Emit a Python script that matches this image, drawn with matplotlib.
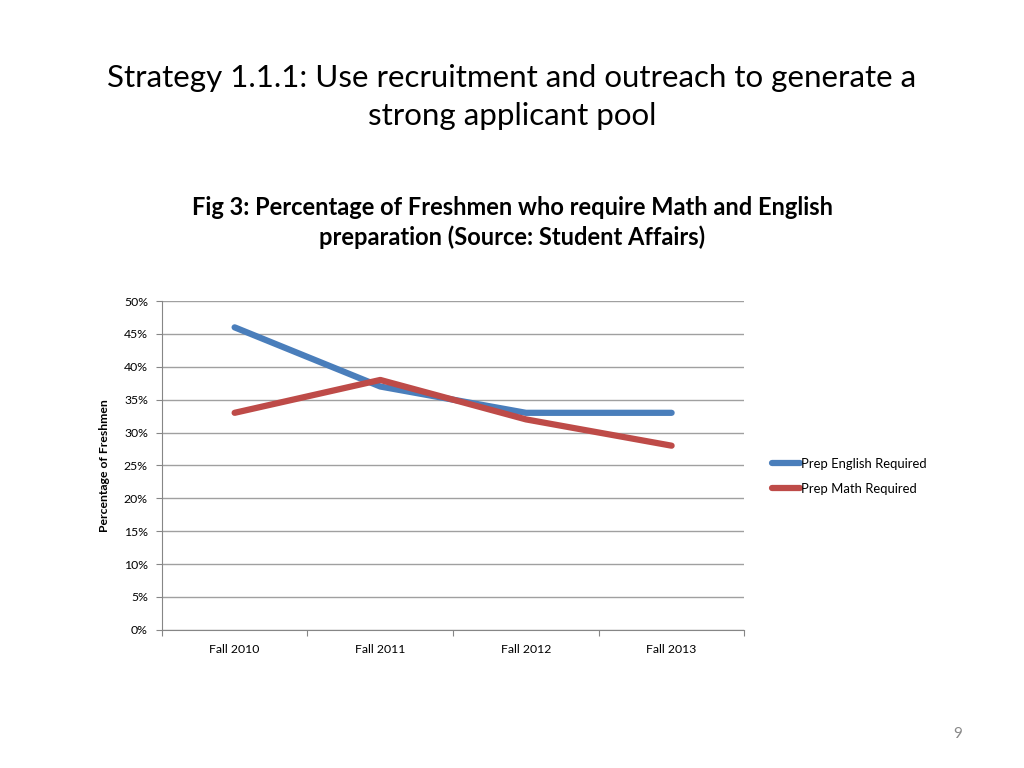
import numpy as np
import matplotlib.pyplot as plt
from matplotlib.ticker import FixedLocator, PercentFormatter

plt.rcParams['font.family'] = ['Lato', 'DejaVu Sans']

years = ["Fall 2010", "Fall 2011", "Fall 2012", "Fall 2013"]
english = [46, 37, 33, 33]
math_req = [33, 38, 32, 28]

fig = plt.figure(figsize=(10.24, 7.68), dpi=100)
ax = fig.add_axes([0.158, 0.180, 0.569, 0.428])

x = np.arange(len(years))
ax.plot(x, english, color="#4a7ebb", lw=4.5, solid_capstyle="round", label="Prep English Required")
ax.plot(x, math_req, color="#be4b48", lw=4.5, solid_capstyle="round", label="Prep Math Required")

ax.set_xlim(-0.5, len(years) - 0.5)
ax.set_ylim(0, 50)
ax.set_yticks(np.arange(0, 51, 5))
ax.yaxis.set_major_formatter(PercentFormatter(decimals=0))
ax.xaxis.set_major_locator(FixedLocator(np.arange(-0.5, len(years), 1)))
ax.xaxis.set_major_formatter(plt.NullFormatter())
ax.xaxis.set_minor_locator(FixedLocator(x))
ax.set_xticklabels(years, minor=True)
ax.tick_params(axis="x", which="minor", length=0, pad=10, labelsize=8.8)
ax.tick_params(axis="x", which="major", length=4, color="#868686")
ax.tick_params(axis="y", length=4, color="#868686", labelsize=8.8, pad=6)
ax.grid(axis="y", color="#a0a0a0", lw=1)
ax.set_axisbelow(True)
for s in ["top", "right"]:
    ax.spines[s].set_visible(False)
for s in ["left", "bottom"]:
    ax.spines[s].set_color("#868686")
ax.set_ylabel("Percentage of Freshmen", fontsize=8.8, fontweight="bold", labelpad=10)

fig.legend(loc="upper left", bbox_to_anchor=(0.742, 0.419), frameon=False,
           fontsize=9.4, handlelength=2.2, handletextpad=0.05, labelspacing=1.0)

fig.text(0.5, 0.874, "Strategy 1.1.1: Use recruitment and outreach to generate a\nstrong applicant pool",
         ha="center", va="center", fontsize=22.5, linespacing=1.42)
fig.text(0.5, 0.710, "Fig 3: Percentage of Freshmen who require Math and English\npreparation (Source: Student Affairs)",
         ha="center", va="center", fontsize=17, fontweight="bold", linespacing=1.3)
fig.text(0.935, 0.044, "9", ha="center", va="center", fontsize=11, color="#888888")

fig.savefig("out.png", dpi=100)
